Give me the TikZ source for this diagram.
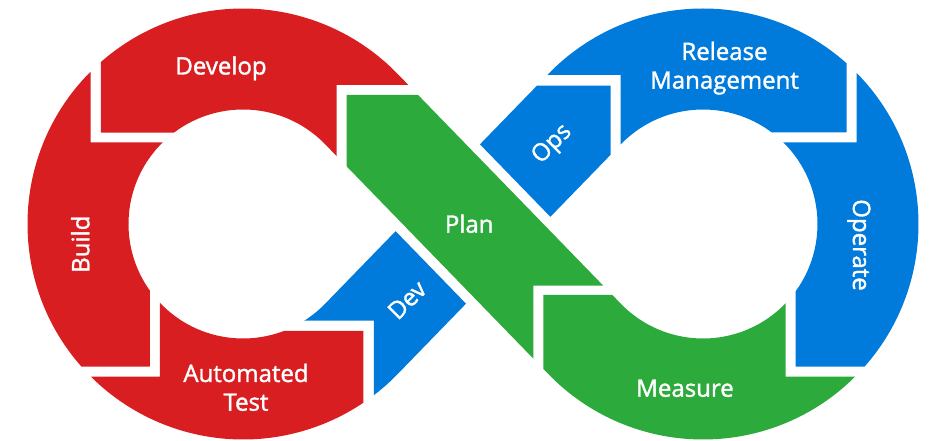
\documentclass[tikz,border=0pt]{standalone}
\usepackage{fontspec}
\setmainfont{Open Sans}
\newfontfamily\lblfont{Open Sans}[FakeBold=1.5]
\definecolor{dsred}{RGB}{217,30,34}
\definecolor{dsblue}{RGB}{0,122,219}
\definecolor{dsgreen}{RGB}{45,170,60}
\newcommand\lobeL{([shift={(\angA:215.5pt)}]CL) arc[start angle=\angA,end angle=360-\angA,radius=215.5pt] -- ([shift={({-\angA}:114.5pt)}]CL) arc[start angle=360-\angA,end angle=\angA,radius=114.5pt] -- cycle }
\newcommand\lobeR{([shift={({\angA-180}:215.5pt)}]CR) arc[start angle=\angA-180,end angle=180-\angA,radius=215.5pt] -- ([shift={({180-\angA}:114.5pt)}]CR) arc[start angle=180-\angA,end angle=\angA-180,radius=114.5pt] -- cycle }
\newcommand\bandP{(PLo) -- (PLi) -- (PRo) -- (PRi) -- cycle }
\newcommand\bandD{(DRo) -- (DLi) -- (DLo) -- (DRi) -- cycle }
\begin{document}
\begin{tikzpicture}[x=1pt,y=1pt,
  lbl/.style={text=white,font=\lblfont\fontsize{24}{28.7}\selectfont,inner sep=0pt,align=center}]
\useasboundingbox (-473,-217) rectangle (456,224);
\pgfmathsetmacro\angA{90-asin(165/230)}
\coordinate (CL) at (-230,0);
\coordinate (CR) at (230,0);
\coordinate (PLo) at ([shift={(\angA:215.5pt)}]CL);
\coordinate (PLi) at ([shift={(\angA:114.5pt)}]CL);
\coordinate (PRo) at ([shift={({\angA+180}:215.5pt)}]CR);
\coordinate (PRi) at ([shift={({\angA+180}:114.5pt)}]CR);
\coordinate (DRo) at ([shift={({180-\angA}:215.5pt)}]CR);
\coordinate (DRi) at ([shift={({180-\angA}:114.5pt)}]CR);
\coordinate (DLo) at ([shift={({-\angA}:215.5pt)}]CL);
\coordinate (DLi) at ([shift={({-\angA}:114.5pt)}]CL);
% Develop
\begin{scope}
\clip (-372,300) -- (-372,91.3) -- (-270,91.3) -- (-270,40) -- (-136.3,40) -- (-136.3,139) -- (-30,139) -- (-30,300) -- cycle;
\fill[dsred] \lobeL \bandP;
\end{scope}
% Build
\begin{scope}
\clip (-500,300) -- (-382.3,300) -- (-382.3,81.7) -- (-290,81.7) -- (-290,-40) -- (-323,-40) -- (-323,-142.7) -- (-500,-142.7) -- cycle;
\fill[dsred] \lobeL;
\end{scope}
% Automated Test
\begin{scope}
\clip (-500,-152.7) -- (-313,-152.7) -- (-313,-40) -- (-210,-40) -- (-210,-107) -- (-109.7,-107) -- (-109.7,-300) -- (-500,-300) -- cycle;
\fill[dsred] \lobeL \bandD;
\end{scope}
% Dev
\begin{scope}
\clip (-99,-300) -- (-99,-96.7) -- (-200,-96.7) -- (-120,30) -- (-113.5,30) -- (207,-300) -- cycle;
\fill[dsblue] \lobeL \bandD;
\end{scope}
% Ops
\begin{scope}
\clip (-49.97,138.3) -- (137.7,138.3) -- (137.7,-30) -- (113.5,-30) -- cycle;
\fill[dsblue] \bandD \lobeR;
\end{scope}
% Release Management
\begin{scope}
\clip (40,149) -- (147.7,149) -- (147.7,40) -- (270,40) -- (270,91.7) -- (373.7,91.7) -- (373.7,300) -- (40,300) -- cycle;
\fill[dsblue] \lobeR \bandD;
\end{scope}
% Operate
\begin{scope}
\clip (383.7,300) -- (500,300) -- (500,-142.7) -- (322.7,-142.7) -- (322.7,-40) -- (290,-40) -- (290,81.7) -- (383.7,81.7) -- cycle;
\fill[dsblue] \lobeR;
\end{scope}
% Measure
\begin{scope}
\clip (70.3,-300) -- (70.3,-71) -- (312.7,-71) -- (312.7,-152.7) -- (500,-152.7) -- (500,-300) -- cycle;
\fill[dsgreen] \lobeR \bandP;
\end{scope}
% Plan
\begin{scope}
\clip (-126.3,129) -- (200,129) -- (200,-61.7) -- (60.3,-61.7) -- (60.3,-300) -- (-126.3,-300) -- cycle;
\clip (-213.97,300) -- (368.7,-300) -- (213.97,-300) -- (-368.7,300) -- cycle;
\fill[dsgreen] \bandP \lobeL;
\end{scope}
% labels
\node[lbl,anchor=base] (tdevelop) at (-252,149.5) {Develop};
\node[lbl,anchor=base,rotate=90] (tbuild) at (-383.7,-20.2) {Build};
\node[lbl] (ttest) at (-227,-163.3) {Automated\\Test};
\node[lbl,rotate=45] (tdev) at (-66,-76) {Dev};
\node[lbl,anchor=base] (tplan) at (-3.8,-8.7) {Plan};
\node[lbl,rotate=45] (tops) at (79.5,79.5) {Ops};
\node[lbl] (trm) at (251.5,155.9) {Release\\Management};
\node[lbl,anchor=base,rotate=-90] (toperate) at (380,-21) {Operate};
\node[lbl,anchor=base] (tmeasure) at (212,-172.7) {Measure};
\end{tikzpicture}
\end{document}
